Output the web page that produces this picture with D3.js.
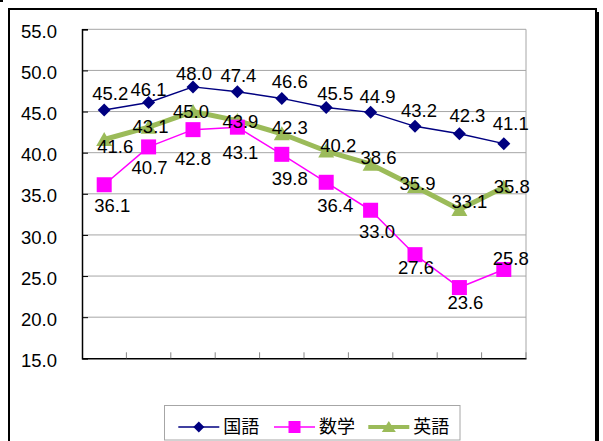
<!DOCTYPE html>
<html><head><meta charset="utf-8">
<script src="https://cdn.jsdelivr.net/npm/d3@7/dist/d3.min.js"></script>
<style>body{margin:0;background:#fff}svg{display:block}</style>
</head><body>
<svg id="c" width="603" height="441"></svg>
<script>
// ---- data ----
const categories = ["1","2","3","4","5","6","7","8","9","10"];
const seriesNames = ["国語","数学","英語"];
const kokugo = [45.2,46.1,48.0,47.4,46.6,45.5,44.9,43.2,42.3,41.1];
const sugaku = [36.1,40.7,42.8,43.1,39.8,36.4,33.0,27.6,23.6,25.8];
const eigo   = [41.6,43.1,45.0,43.9,42.3,40.2,38.6,35.9,33.1,35.8];
const yTicks = [15,20,25,30,35,40,45,50,55];

// ---- label nudges (layout, px relative to marker) ----
const nudgeK = {dx:[6,0,1,1,8,9,7,4,8,7], dy:[-9.5,-7,-6.5,-10,-10,-7,-9,-9.3,-11.7,-13.3]};
const nudgeS = {dx:[8,1,0,3,8,9,6.5,1,6,7], dy:[27,26.7,35.7,31.5,31,29.7,28,19,21,-4]};
const nudgeE = {dx:[11,2,-2,3,8,12,8,2.5,10,8], dy:[13,6,6,7,0,1,0,4,-1,6]};

const svg = d3.select("#c");
const L=82, R=526, T=29.3, B=358.3;
const x = d3.scaleBand().domain(categories).range([L,R]);
const y = d3.scaleLinear().domain([15,55]).range([B,T]);
const cx = (d,i)=>x(categories[i])+x.bandwidth()/2;
const font = "'Liberation Sans', Arial, sans-serif";
const fs = 18.5;

// outer frame
svg.append("rect").attr("x",0).attr("y",0).attr("width",3).attr("height",2).attr("fill","#000");
svg.append("rect").attr("x",9).attr("y",9).attr("width",587).attr("height",450)
  .attr("fill","none").attr("stroke","#000").attr("stroke-width",2);
svg.append("line").attr("x1",598).attr("x2",598).attr("y1",12).attr("y2",441)
  .attr("stroke","#000").attr("stroke-width",2);

// gridlines
svg.append("g").selectAll("line").data(yTicks.slice(1)).join("line")
  .attr("x1",L).attr("x2",R).attr("y1",d=>y(d)).attr("y2",d=>y(d))
  .attr("stroke","#a6a6a6").attr("stroke-width",1);
svg.append("line").attr("x1",R).attr("x2",R).attr("y1",T).attr("y2",B).attr("stroke","#a6a6a6");

// y axis
const ya = svg.append("g").attr("transform",`translate(${L},0)`)
  .call(d3.axisLeft(y).tickValues(yTicks).tickSize(-6).tickPadding(25).tickFormat(d3.format(".1f")));
ya.select(".domain").attr("stroke","#000").attr("stroke-width",1.5);
ya.selectAll(".tick line").attr("stroke","#000");
ya.selectAll("text").attr("font-family",font).attr("font-size",fs).attr("fill","#000").attr("dy","0.44em");

// x axis
const xa = svg.append("g").attr("transform",`translate(0,${B})`)
  .call(d3.axisBottom(x).tickValues([]).tickSize(0));
xa.select(".domain").attr("stroke","#000").attr("stroke-width",1.5);
const bounds = categories.map((c,i)=>x(c)+x.bandwidth());
svg.append("g").selectAll("line").data(bounds).join("line")
  .attr("x1",d=>d).attr("x2",d=>d).attr("y1",B).attr("y2",B-6).attr("stroke","#888");

const line = d3.line().x(cx).y(d=>y(d));

function drawSeries(vals,color,width,marker){
  svg.append("path").datum(vals).attr("d",line).attr("fill","none")
    .attr("stroke",color).attr("stroke-width",width).attr("stroke-linejoin","round");
  const g = svg.append("g");
  vals.forEach((v,i)=>{
    const px=cx(v,i), py=y(v);
    if(marker==="diamond") g.append("path").attr("d",`M${px},${py-6.5}L${px+6.5},${py}L${px},${py+6.5}L${px-6.5},${py}Z`).attr("fill",color);
    if(marker==="square") g.append("rect").attr("x",px-7.5).attr("y",py-7.5).attr("width",15).attr("height",15).attr("fill",color);
    if(marker==="triangle") g.append("path").attr("d",`M${px},${py-7.5}L${px+8},${py+6.5}L${px-8},${py+6.5}Z`).attr("fill",color);
  });
}
drawSeries(eigo,"#9bbb59",5,"triangle");
drawSeries(kokugo,"#000080",1.5,"diamond");
drawSeries(sugaku,"#ff00ff",1.5,"square");

function labels(vals,n){
  svg.append("g").selectAll("text").data(vals).join("text")
    .attr("x",(d,i)=>cx(d,i)+n.dx[i]).attr("y",(d,i)=>y(d)+n.dy[i])
    .attr("text-anchor","middle").attr("font-family",font).attr("font-size",fs).attr("fill","#000")
    .text(d=>d3.format(".1f")(d));
}
labels(kokugo,nudgeK);
labels(sugaku,nudgeS);
labels(eigo,nudgeE);

// legend
svg.append("rect").attr("x",164.5).attr("y",405.5).attr("width",295.5).attr("height",34.5)
  .attr("fill","#fff").attr("stroke","#a6a6a6");
const legX = [178.3,274,368.3];
const colors = ["#000080","#ff00ff","#9bbb59"];
const widths = [1.5,1.5,4];
const ly = 427;
seriesNames.forEach((nm,i)=>{
  const x0=legX[i], xm=x0+20.5;
  svg.append("line").attr("x1",x0).attr("x2",x0+41).attr("y1",ly).attr("y2",ly)
    .attr("stroke",colors[i]).attr("stroke-width",widths[i]);
  if(i===0) svg.append("path").attr("d",`M${xm},${ly-5.5}L${xm+5.5},${ly}L${xm},${ly+5.5}L${xm-5.5},${ly}Z`).attr("fill",colors[i]);
  if(i===1) svg.append("rect").attr("x",xm-6).attr("y",ly-6).attr("width",12).attr("height",12).attr("fill",colors[i]);
  if(i===2) svg.append("path").attr("d",`M${xm},${ly-6}L${xm+7},${ly+5}L${xm-7},${ly+5}Z`).attr("fill",colors[i]);
  svg.append("text").attr("x",x0+45).attr("y",ly).attr("dy","0.36em")
    .attr("font-family","'Noto Sans CJK JP', sans-serif").attr("font-size",18).attr("fill","#000").text(nm);
});
</script>
</body></html>
